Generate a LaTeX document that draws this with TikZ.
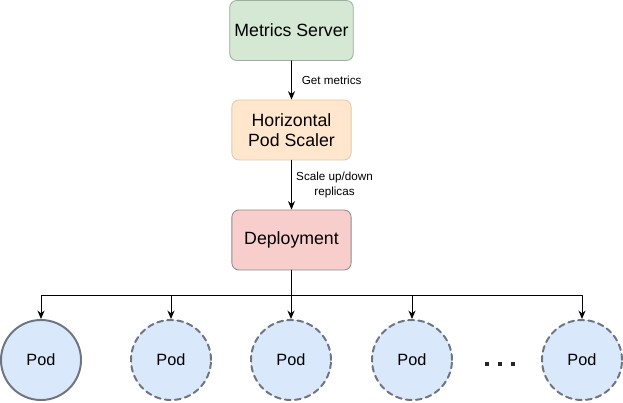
\documentclass[tikz,border=0pt]{standalone}
\usepackage{fontspec}
\setmainfont{Liberation Sans}
\usetikzlibrary{arrows.meta}
\definecolor{msfill}{HTML}{D5E8D4}
\definecolor{msline}{HTML}{9DAE9C}
\definecolor{hpfill}{HTML}{FFE6CC}
\definecolor{hpline}{HTML}{E3C9A9}
\definecolor{dpfill}{HTML}{F8CECC}
\definecolor{dpline}{HTML}{8C8C8C}
\definecolor{podfill}{HTML}{DAE8FC}
\definecolor{podline}{HTML}{6F7580}

\begin{document}
\begin{tikzpicture}[x=0.025cm,y=-0.025cm,line cap=round,line join=round,
    box/.style={rectangle,rounded corners=5pt,
      minimum width=2.98cm,minimum height=1.5cm,line width=0.6pt,align=center,
      font=\fontsize{12.6}{14}\selectfont},
    pod/.style={circle,minimum size=2cm,inner sep=0pt,line width=1.4pt,
      draw=podline,fill=podfill,font=\fontsize{11.6}{13}\selectfont},
    podd/.style={pod,dash pattern=on 4.2pt off 3pt},
    conn/.style={line width=0.7pt,-{Stealth[length=6pt,width=5pt]}},
    lbl/.style={font=\fontsize{8.3}{10}\selectfont,align=center,inner sep=0pt}]
  \useasboundingbox (0,0) rectangle (623,402);
  \coordinate (bus) at (0,295);
  \node[box,draw=msline,fill=msfill] (ms) at (291.5,30.5) {Metrics Server};
  \node[box,draw=hpline,fill=hpfill] (hpa) at (291.5,130) {Horizontal\\Pod Scaler};
  \node[box,draw=dpline,fill=dpfill] (dep) at (291.5,240) {Deployment};
  \draw[conn] (ms) -- (hpa) node[lbl,midway,right=7pt] (getm) {Get metrics};
  \draw[conn] (hpa) -- (dep) node[lbl,midway,right=3pt] (scl) {Scale up/down\\replicas};
  \node[pod] (p1) at (41,360) {Pod};
  \node[podd] (p2) at (171,360) {Pod};
  \node[podd] (p3) at (291,360) {Pod};
  \node[podd] (p4) at (412,360) {Pod};
  \node[podd] (p5) at (582,360) {Pod};
  \foreach \p in {p1,p2,p3,p4,p5}
    \draw[conn] (dep.south) -- (dep.south |- bus) -| (\p.north);
  % dots between the pods
  \foreach \x in {487,500,513}
    \fill[black!85] (\x-2,362) rectangle (\x+2,366);
\end{tikzpicture}
\end{document}
